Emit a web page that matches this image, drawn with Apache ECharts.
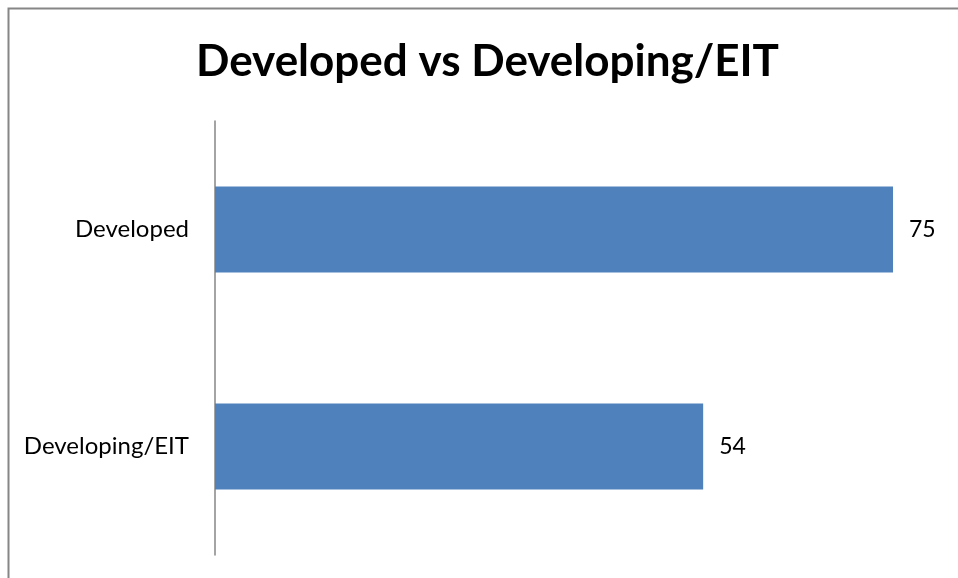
<!DOCTYPE html>
<html><head><meta charset="utf-8">
<script src="https://cdn.jsdelivr.net/npm/echarts@6/dist/echarts.min.js"></script>
<style>html,body{margin:0;padding:0;background:#fff}#c{width:958px;height:578px}</style>
</head><body><div id="c"></div>
<script>
const titleText = 'Developed vs Developing/EIT';
const categories = ['Developed', 'Developing/EIT'];
const values = [75, 54];

const chart = echarts.init(document.getElementById('c'));
chart.setOption({
  animation: false,
  backgroundColor: '#fff',
  title: {
    text: titleText, left: 191, top: 35,
    textStyle: { fontFamily: 'Lato', fontWeight: 'bold', fontSize: 44, color: '#000' }
  },
  graphic: [{
    type: 'rect', shape: { x: 8.5, y: 8.5, width: 1000, height: 1000 },
    style: { fill: 'none', stroke: '#868686', lineWidth: 2 }, silent: true
  }],
  grid: { left: 215, top: 121, width: 678, height: 434, containLabel: false },
  xAxis: {
    type: 'value', min: 0, max: 75, show: false
  },
  yAxis: {
    type: 'category', data: categories, inverse: true,
    axisLine: { show: true, lineStyle: { color: '#868686', width: 1.5 } },
    axisTick: { show: false },
    axisLabel: { margin: 26, fontFamily: 'Lato', fontSize: 24, color: '#000' }
  },
  series: [{
    type: 'bar', data: values, barWidth: 86,
    itemStyle: { color: '#4F81BD' },
    label: { show: true, position: 'right', distance: 16, fontFamily: 'Lato', fontSize: 23, color: '#000' }
  }]
});
</script></body></html>
